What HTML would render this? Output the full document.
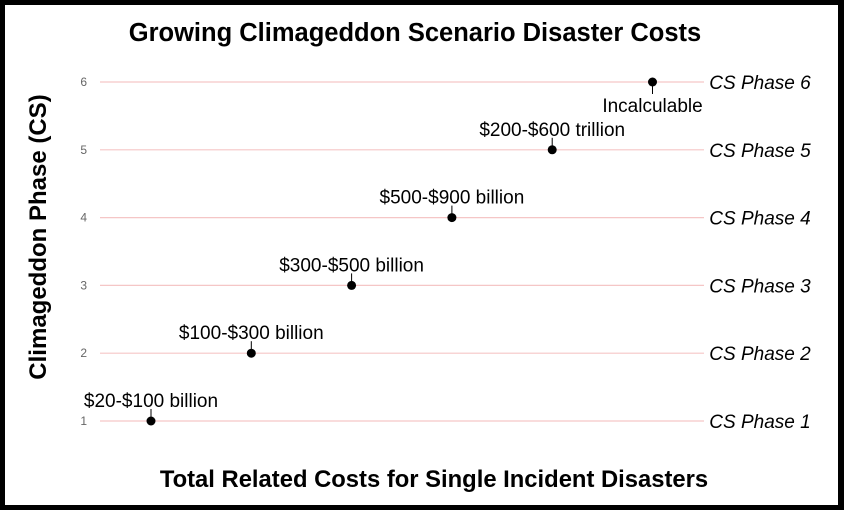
<!DOCTYPE html>
<html><head><meta charset="utf-8"><style>
html,body{margin:0;padding:0;background:#000;}
#wrap{position:absolute;left:0;top:0;width:844px;height:510px;background:#000;}
svg{position:absolute;left:5px;top:5px;}
text{font-family:"Liberation Sans",Arial,sans-serif;}
</style></head><body>
<div id="wrap">
<svg id="chart" width="833" height="500" viewBox="5 5 833 500">
<rect x="5" y="5" width="833" height="500" fill="#fff"/>
<text x="415" y="41" text-anchor="middle" font-size="25.5" font-weight="bold">Growing Climageddon Scenario Disaster Costs</text>
<text x="434" y="487" text-anchor="middle" font-size="23.8" font-weight="bold">Total Related Costs for Single Incident Disasters</text>
<text transform="translate(46,237) rotate(-90)" text-anchor="middle" font-size="24" font-weight="bold">Climageddon Phase (CS)</text>
<g id="g"></g>
</svg>
</div>
<script>
const phases = [1,2,3,4,5,6];
const costLabels = ["$20-$100 billion","$100-$300 billion","$300-$500 billion","$500-$900 billion","$200-$600 trillion","Incalculable"];
const phaseLabels = ["CS Phase 1","CS Phase 2","CS Phase 3","CS Phase 4","CS Phase 5","CS Phase 6"];
const yTicks = [1,2,3,4,5,6];
const NS="http://www.w3.org/2000/svg";
const g=document.getElementById('g');
function y(v){return 421-(v-1)*67.8;}
function x(v){return 151+(v-1)*100.3;}
function mk(t,a,p){const e=document.createElementNS(NS,t);for(const k in a)e.setAttribute(k,a[k]);(p||g).appendChild(e);return e;}
yTicks.forEach(t=>{
  const l=mk('text',{x:87,y:y(t)+4,'text-anchor':'end','font-size':12,fill:'#666'});
  l.textContent=t;
  
  
  const gl=mk('line',{x1:100,x2:704,y1:y(t),y2:y(t),stroke:'#f5c6c6','stroke-width':1.2});
  
  
});
phases.forEach((p,i)=>{
  const px=x(p),py=y(p);
  const below = i===phases.length-1;
  const ld=mk('line',{x1:px,x2:px,y1:py,y2:below?py+12:py-12,stroke:'#000','stroke-width':1});
  
  
  const c=mk('circle',{cx:px,cy:py,r:4.5,fill:'#000'});
  
  
  const t=mk('text',{x:px,y:below?py+30:py-14,'text-anchor':'middle','font-size':19});
  t.textContent=costLabels[i];
  
  
  const pl=mk('text',{x:760,y:py+7,'text-anchor':'middle','font-size':19,'font-style':'italic'});
  pl.textContent=phaseLabels[i];
  
  
});
</script>
</body></html>
